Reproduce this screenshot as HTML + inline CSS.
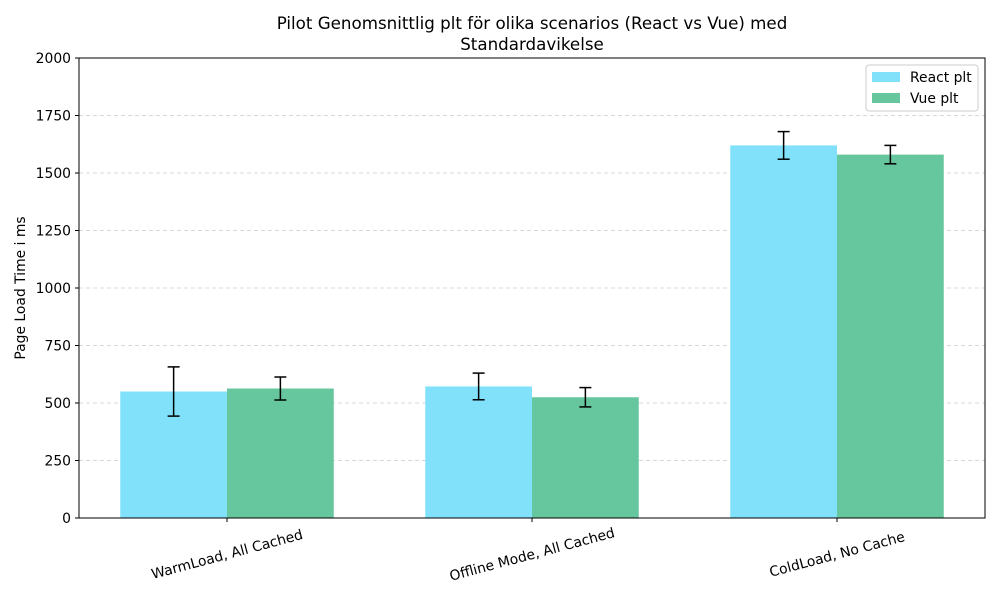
<!DOCTYPE html>
<html><head><meta charset="utf-8"><style>body{margin:0;background:#fff}svg{display:block;font-family:"DejaVu Sans","Liberation Sans",sans-serif}</style></head>
<body>
<svg id="chart" width="1000" height="600">
<text x="532" y="29" text-anchor="middle" font-size="16.7">Pilot Genomsnittlig plt för olika scenarios (React vs Vue) med</text>
<text x="532" y="50" text-anchor="middle" font-size="16.7">Standardavikelse</text>
<text transform="translate(25,288) rotate(-90)" text-anchor="middle" font-size="13.9">Page Load Time i ms</text>
<g id="grid"></g><g id="bars"></g><g id="axes"></g>
<g>
<rect x="866" y="65" width="112" height="46" fill="#fff" stroke="#ccc" rx="3"/>
<rect x="872" y="72" width="28" height="10" fill="#81e1fb"/>
<text x="910" y="82" font-size="13.9">React plt</text>
<rect x="872" y="93" width="28" height="10" fill="#66c69d"/>
<text x="910" y="103" font-size="13.9">Vue plt</text>
</g>
</svg>
<script>
const categories=["WarmLoad, All Cached","Offline Mode, All Cached","ColdLoad, No Cache"];
const reactValues=[550,572,1620];
const reactErrors=[107,58,60];
const vueValues=[563,525,1580];
const vueErrors=[50,42,40];
const yTicks=[0,250,500,750,1000,1250,1500,1750,2000];
const NS="http://www.w3.org/2000/svg";
const L=79,R=985,T=58,B=518;
const y=v=>B-(v/2000)*(B-T);
const x=i=>227+i*305;
const bw=0.35*305;
function mk(p,t,a){const e=document.createElementNS(NS,t);for(const k in a)e.setAttribute(k,a[k]);p.appendChild(e);return e;}
const g=document.getElementById('grid'),b=document.getElementById('bars'),ax=document.getElementById('axes');
yTicks.forEach(t=>{
 const ln=mk(g,'line',{x1:L,x2:R,y1:y(t),y2:y(t),stroke:'#ccc','stroke-dasharray':'4,3','stroke-width':0.8});
 
 
 mk(ax,'line',{x1:L-4,x2:L,y1:y(t),y2:y(t),stroke:'#000'});
 const tx=mk(ax,'text',{x:L-8,y:y(t)+5,'text-anchor':'end','font-size':13.9});tx.textContent=t;
 
 
});
function series(vals,errs,off,color,name){
 vals.forEach((v,i)=>{
  const cx=x(i)+off;
  const r=mk(b,'rect',{x:cx-bw/2,y:y(v),width:bw,height:B-y(v),fill:color});
  
  
  const e=mk(b,'g',{stroke:'#000','stroke-width':1.5});
  
  
  mk(e,'line',{x1:cx,x2:cx,y1:y(v+errs[i]),y2:y(v-errs[i])});
  mk(e,'line',{x1:cx-6,x2:cx+6,y1:y(v+errs[i]),y2:y(v+errs[i])});
  mk(e,'line',{x1:cx-6,x2:cx+6,y1:y(v-errs[i]),y2:y(v-errs[i])});
 });
}
series(reactValues,reactErrors,-bw/2,'#81e1fb','react');
series(vueValues,vueErrors,bw/2,'#66c69d','vue');
const fr=mk(ax,'rect',{x:L,y:T,width:R-L,height:B-T,fill:'none',stroke:'#000','stroke-width':1});


categories.forEach((c,i)=>{
 mk(ax,'line',{x1:x(i),x2:x(i),y1:B,y2:B+4,stroke:'#000'});
 const t=mk(ax,'text',{x:x(i),y:559,'text-anchor':'middle','font-size':13.9,transform:`rotate(-15 ${x(i)} 554)`});
 t.textContent=c;
 
 
});
</script>
</body></html>
